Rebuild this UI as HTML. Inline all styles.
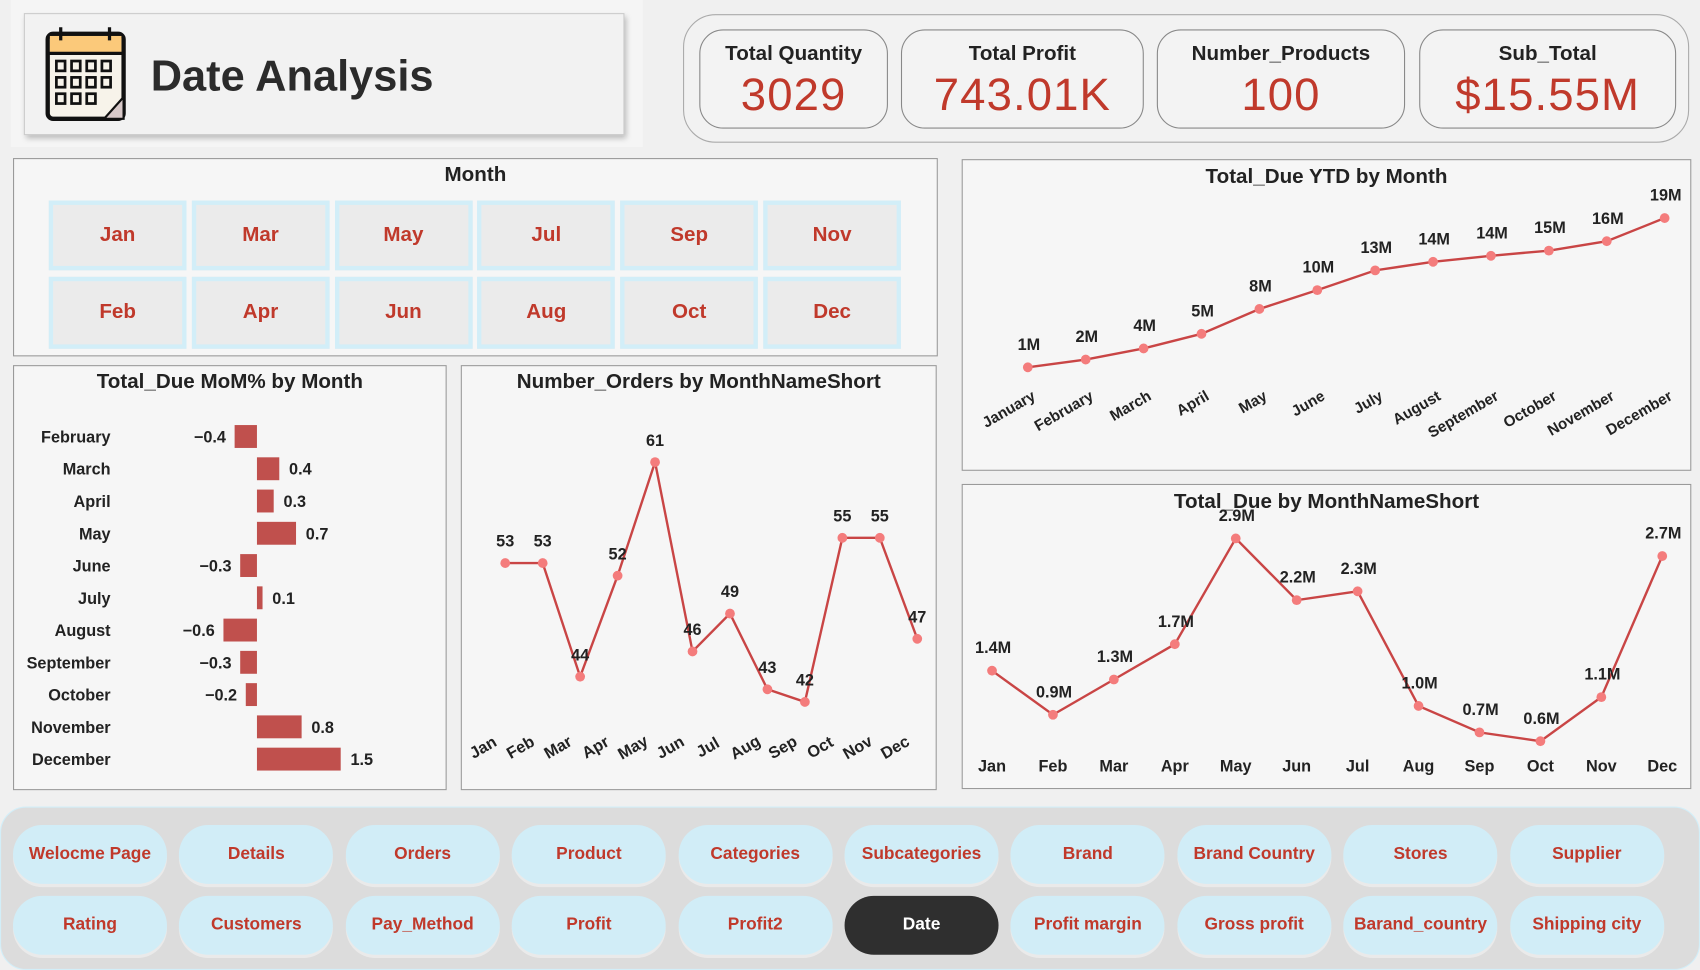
<!DOCTYPE html>
<html><head><meta charset="utf-8"><style>
html,body{margin:0;padding:0;width:1700px;height:970px;overflow:hidden;background:#f0f0f0;}
#root{position:absolute;left:0;top:0;width:1568px;height:890px;transform-origin:0 0;transform:scale(1.08418,1.08989);font-family:"Liberation Sans","DejaVu Sans",sans-serif;}
.abs{position:absolute;box-sizing:border-box;}
.panel{background:#f6f6f6;border:1px solid #9a9a9a;}
.ptitle{position:absolute;left:0;right:0;text-align:center;font-weight:bold;font-size:19px;color:#222;}
.kpi{position:absolute;top:27px;height:91px;border:1.5px solid #888;border-radius:22px;background:#f3f3f3;text-align:center;box-sizing:border-box;}
.kpi .l{font-weight:bold;font-size:19px;color:#222;margin-top:11px;}
.kpi .v{font-size:42px;color:#c0392b;margin-top:2px;letter-spacing:1px;}
.mb{position:absolute;width:127px;height:62px;background:#ebebeb;border:4px solid #d2eef8;box-sizing:border-box;color:#c0392b;font-weight:bold;font-size:19px;display:flex;align-items:center;justify-content:center;}
.nb{position:absolute;width:142px;height:54px;border-radius:27px;background:#d1edf7;color:#c0392b;font-weight:bold;font-size:16px;display:flex;align-items:center;justify-content:center;box-shadow:0 3px 0 #eaeaea;}
svg text{font-family:"Liberation Sans","DejaVu Sans",sans-serif;font-weight:bold;}
</style></head><body>
<div id="root">
 <div class="abs" style="left:10px;top:0;width:583px;height:135px;background:#f5f5f5;"></div>
 <div class="abs" style="left:22px;top:12px;width:554px;height:112px;background:#f2f2f2;border:1px solid #ccc;box-shadow:2px 3px 5px rgba(0,0,0,.25);">
  <svg style="position:absolute;left:18px;top:10px" width="78" height="90" viewBox="0 0 78 90">
   <rect x="3" y="8" width="70" height="78" rx="5" fill="#f7f3ea" stroke="#111" stroke-width="4"/>
   <rect x="5" y="10" width="66" height="15" fill="#fbc97a"/>
   <line x1="3" y1="26" x2="73" y2="26" stroke="#111" stroke-width="3"/>
   <path d="M15 2v12M60 2v12" stroke="#111" stroke-width="3" fill="none"/>
   <g fill="none" stroke="#111" stroke-width="2.5">
    <rect x="11" y="33" width="8" height="9"/><rect x="25" y="33" width="8" height="9"/><rect x="39" y="33" width="8" height="9"/><rect x="53" y="33" width="8" height="9"/>
    <rect x="11" y="48" width="8" height="9"/><rect x="25" y="48" width="8" height="9"/><rect x="39" y="48" width="8" height="9"/><rect x="53" y="48" width="8" height="9"/>
    <rect x="11" y="63" width="8" height="9"/><rect x="25" y="63" width="8" height="9"/><rect x="39" y="63" width="8" height="9"/>
   </g>
   <path d="M73 66 L55 86 L73 86 Z" fill="#d8c9c9" stroke="#111" stroke-width="2"/>
  </svg>
  <div style="position:absolute;left:116px;top:35px;font-size:40px;font-weight:bold;color:#2b2b2b;">Date Analysis</div>
 </div>

 <div class="abs" style="left:630px;top:13px;width:928px;height:118px;border:1.5px solid #aaa;border-radius:30px;background:#f2f2f2;"></div>
 <div class="kpi" style="left:645px;width:174px;"><div class="l">Total Quantity</div><div class="v">3029</div></div>
 <div class="kpi" style="left:831px;width:224px;"><div class="l">Total Profit</div><div class="v">743.01K</div></div>
 <div class="kpi" style="left:1067px;width:229px;"><div class="l">Number_Products</div><div class="v">100</div></div>
 <div class="kpi" style="left:1309px;width:237px;"><div class="l">Sub_Total</div><div class="v">$15.55M</div></div>

 <div class="abs panel" style="left:12px;top:145px;width:853px;height:182px;">
  <div class="ptitle" style="top:4px">Month</div>
 </div>
 <div id="months"></div>

 <div class="abs panel" style="left:12px;top:335px;width:400px;height:390px;"><div class="ptitle" style="top:4px">Total_Due MoM% by Month</div></div>
 <div class="abs panel" style="left:425px;top:335px;width:439px;height:390px;"><div class="ptitle" style="top:4px">Number_Orders by MonthNameShort</div></div>
 <div class="abs panel" style="left:887px;top:146px;width:673px;height:286px;"><div class="ptitle" style="top:5px">Total_Due YTD by Month</div></div>
 <div class="abs panel" style="left:887px;top:444px;width:673px;height:280px;"><div class="ptitle" style="top:5px">Total_Due by MonthNameShort</div></div>

 <svg id="charts" style="position:absolute;left:0;top:0" width="1568" height="890"></svg>

 <div class="abs" style="left:0;top:740px;width:1568px;height:150px;background:#dcdcdc;border-radius:24px;border:1px solid #d2eef8;"></div>
 <div id="nav"></div>
</div>
<script>
const NS="http://www.w3.org/2000/svg";
const svg=document.getElementById('charts');
function mk(tag,attrs,parent){const e=document.createElementNS(NS,tag);for(const k in attrs)e.setAttribute(k,attrs[k]);(parent||svg).appendChild(e);return e;}
function txt(x,y,s,attrs){const t=mk('text',Object.assign({x:x,y:y,'font-size':15,fill:'#222'},attrs||{}));t.textContent=s;return t;}

const slicerTop=["Jan","Mar","May","Jul","Sep","Nov"];
const slicerBot=["Feb","Apr","Jun","Aug","Oct","Dec"];
const mdiv=document.getElementById('months');
[slicerTop,slicerBot].forEach((row,r)=>row.forEach((m,i)=>{
 const d=document.createElement('div');d.className='mb';d.textContent=m;
 d.style.left=(45+i*131.8)+'px';d.style.top=(r?254:184)+'px';d.style.height=(r?66:64)+'px';
 
 
 mdiv.appendChild(d);}));

const momMonths=["February","March","April","May","June","July","August","September","October","November","December"];
const momValues=[-0.4,0.4,0.3,0.7,-0.3,0.1,-0.6,-0.3,-0.2,0.8,1.5];
const momX=v=>237+v*51.5, momY=i=>400+i*29.6;
momMonths.forEach((m,i)=>{
 const v=momValues[i],y=momY(i);
 const t=txt(102,y+6,m,{'text-anchor':'end'});
 
 
 const b=mk('rect',{x:Math.min(momX(0),momX(v)),y:y-10,width:Math.abs(momX(v)-momX(0)),height:21,fill:'#c0504d'});
 
 
 const lv=txt(v<0?momX(v)-8:momX(v)+9,y+6,(v<0?'−':'')+Math.abs(v),{'text-anchor':v<0?'end':'start'});
 
 
});

const ordMonths=["Jan","Feb","Mar","Apr","May","Jun","Jul","Aug","Sep","Oct","Nov","Dec"];
const ordValues=[53,53,44,52,61,46,49,43,42,55,55,47];
const ordX=i=>466+i*34.55, ordY=v=>424+(61-v)*11.58;
function line(xs,ys,name){
 const p=mk('polyline',{points:xs.map((x,i)=>x+','+ys[i]).join(' '),fill:'none',stroke:'#c94545','stroke-width':2.2});
 
 
 xs.forEach((x,i)=>{const c=mk('circle',{cx:x,cy:ys[i],r:4.5,fill:'#f47c7c'});
 
 });
}
line(ordValues.map((v,i)=>ordX(i)),ordValues.map(v=>ordY(v)),'orders');
ordValues.forEach((v,i)=>{const t=txt(ordX(i),ordY(v)-15,String(v),{'text-anchor':'middle'});
 
 });
ordMonths.forEach((m,i)=>{const t=txt(0,0,m,{'text-anchor':'middle',transform:`translate(${ordX(i)-18},${690}) rotate(-30)`});
 
 });

const ytdMonths=["January","February","March","April","May","June","July","August","September","October","November","December"];
const ytdValues=[1.4,2.3,3.6,5.3,8.2,10.4,12.7,13.7,14.4,15.0,16.1,18.8];
const ytdLabels=["1M","2M","4M","5M","8M","10M","13M","14M","14M","15M","16M","19M"];
const ytdX=i=>948+i*53.4, ytdY=v=>337-(v-1.4)*7.87;
line(ytdValues.map((v,i)=>ytdX(i)),ytdValues.map(v=>ytdY(v)),'ytd');
ytdValues.forEach((v,i)=>{const t=txt(ytdX(i)+1,ytdY(v)-16,ytdLabels[i],{'text-anchor':'middle'});
 
 });
ytdMonths.forEach((m,i)=>{const t=txt(0,0,m,{'text-anchor':'end','font-weight':'normal','font-size':14,transform:`translate(${ytdX(i)+8},${366}) rotate(-30)`});
 
 });

const dueMonths=["Jan","Feb","Mar","Apr","May","Jun","Jul","Aug","Sep","Oct","Nov","Dec"];
const dueValues=[1.4,0.9,1.3,1.7,2.9,2.2,2.3,1.0,0.7,0.6,1.1,2.7];
const dueLabels=["1.4M","0.9M","1.3M","1.7M","2.9M","2.2M","2.3M","1.0M","0.7M","0.6M","1.1M","2.7M"];
const dueX=i=>915+i*56.2, dueY=v=>494+(2.9-v)*80.9;
line(dueValues.map((v,i)=>dueX(i)),dueValues.map(v=>dueY(v)),'due');
dueValues.forEach((v,i)=>{const t=txt(dueX(i)+1,dueY(v)-16,dueLabels[i],{'text-anchor':'middle'});
 
 });
dueMonths.forEach((m,i)=>{const t=txt(dueX(i),708,m,{'text-anchor':'middle'});
 
 });

const nav1=["Welocme Page","Details","Orders","Product","Categories","Subcategories","Brand","Brand Country","Stores","Supplier"];
const nav2=["Rating","Customers","Pay_Method","Profit","Profit2","Date","Profit margin","Gross profit","Barand_country","Shipping city"];
const nd=document.getElementById('nav');
[nav1,nav2].forEach((row,r)=>row.forEach((n,i)=>{
 const d=document.createElement('div');d.className='nb';d.textContent=n;
 d.style.left=(12+i*153.4)+'px';d.style.top=(r?822:757)+'px';
 if(n==="Date"){d.style.background='#2f2f2f';d.style.color='#fff';d.style.boxShadow='none';}
 
 
 nd.appendChild(d);}));
</script>
</body></html>
